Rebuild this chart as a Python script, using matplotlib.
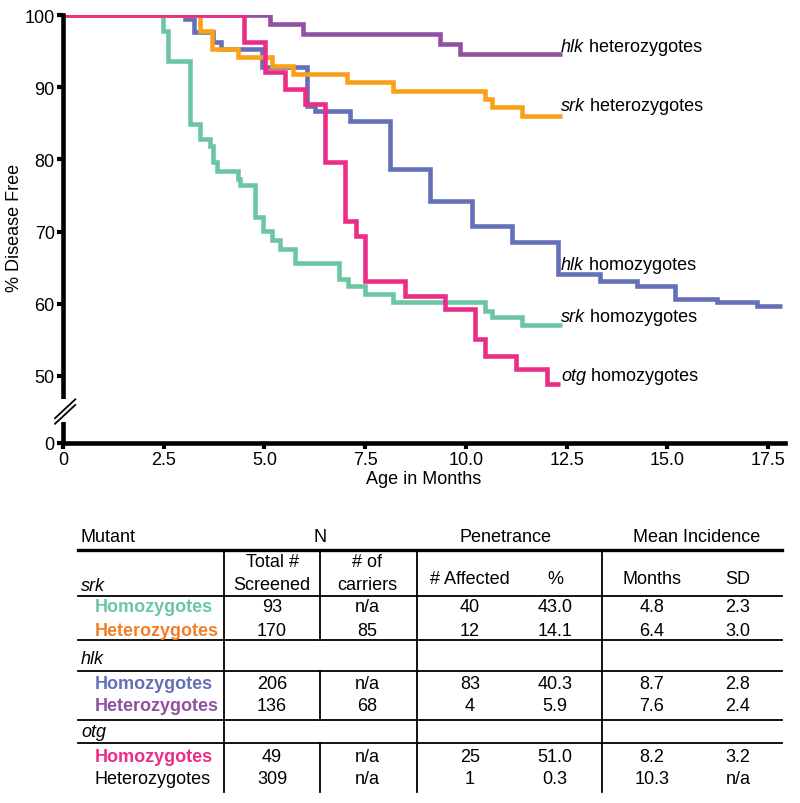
import matplotlib
matplotlib.use('Agg')
import matplotlib.pyplot as plt
from matplotlib.lines import Line2D
from matplotlib.patches import Rectangle

plt.rcParams['font.family'] = ['Liberation Sans', 'DejaVu Sans']

# ---------------- survival data (months, % disease free) ----------------
srk_hom_t = [0, 2.48, 2.61, 3.15, 3.40, 3.65, 3.72, 3.82, 4.34, 4.39, 4.76, 4.96,
             5.19, 5.38, 5.76, 6.85, 7.07, 7.49, 8.19, 10.47, 10.65, 11.39, 12.38]
srk_hom_s = [100, 97.8, 93.6, 84.9, 82.8, 81.9, 79.6, 78.4, 77.3, 76.4, 72.0, 70.1,
             68.9, 67.6, 65.6, 63.4, 62.4, 61.3, 60.2, 59.0, 58.2, 57.0, 57.0]

srk_het_t = [0, 3.40, 3.70, 4.34, 5.19, 5.71, 7.05, 8.19, 10.47, 10.65, 11.39, 12.38]
srk_het_s = [100, 97.8, 95.3, 94.2, 93.0, 91.8, 90.7, 89.5, 88.4, 87.2, 86.0, 86.0]

hlk_hom_t = [0, 3.03, 3.25, 3.72, 3.92, 4.94, 6.05, 6.25, 7.12, 8.11, 9.11, 10.15,
             11.14, 12.28, 13.33, 14.24, 15.19, 16.23, 17.22, 17.84]
hlk_hom_s = [100, 99.4, 97.6, 96.2, 95.3, 92.8, 87.4, 86.7, 85.3, 78.7, 74.2, 70.8,
             68.5, 64.1, 63.2, 62.5, 60.7, 60.2, 59.7, 59.7]

hlk_het_t = [0, 5.14, 5.96, 9.36, 9.85, 12.38]
hlk_het_s = [100, 98.8, 97.4, 96.0, 94.6, 94.6]

otg_hom_t = [0, 4.49, 5.01, 5.51, 6.00, 6.50, 7.00, 7.27, 7.49, 8.49, 9.48, 10.22,
             10.47, 11.24, 12.01, 12.33]
otg_hom_s = [100, 96.2, 92.1, 89.8, 87.7, 79.7, 71.4, 69.4, 63.2, 61.1, 59.3, 55.1,
             52.8, 51.0, 48.9, 48.9]

x_ticks = [0, 2.5, 5.0, 7.5, 10.0, 12.5, 15.0, 17.5]
x_ticklabels = ['0', '2.5', '5.0', '7.5', '10.0', '12.5', '15.0', '17.5']
y_ticks_upper = [50, 60, 70, 80, 90, 100]

# ---------------- table data ----------------
mutants = ['srk', 'hlk', 'otg']
genotypes = ['Homozygotes', 'Heterozygotes']
total_screened = [['93', '170'], ['206', '136'], ['49', '309']]
carriers = [['n/a', '85'], ['n/a', '68'], ['n/a', 'n/a']]
affected = [['40', '12'], ['83', '4'], ['25', '1']]
percent = [['43.0', '14.1'], ['40.3', '5.9'], ['51.0', '0.3']]
months = [['4.8', '6.4'], ['8.7', '7.6'], ['8.2', '10.3']]
sd = [['2.3', '3.0'], ['2.8', '2.4'], ['3.2', 'n/a']]

# ---------------- colours ----------------
C_TEAL = '#6CC6A2'
C_ORANGE = '#F9A11B'
C_ORANGE_TXT = '#F47E27'
C_BLUE = '#6470B7'
C_PURPLE = '#9150A1'
C_PINK = '#EC2D87'

W, H = 800, 804
fig = plt.figure(figsize=(W / 100, H / 100), dpi=100)


def fx(x):
    return x / W


def fy(y):
    return 1 - y / H


ax = fig.add_axes([fx(63), fy(444), (785 - 63) / W, (444 - 16) / H])

# broken axis: value shown at the bottom of the axis is 0
Y_BOTTOM = 50 - (444 - 377) / 7.22
ax.set_xlim(0, 17.92)
ax.set_ylim(Y_BOTTOM, 100)

series = [
    (srk_hom_t, srk_hom_s, C_TEAL, 2),
    (hlk_het_t, hlk_het_s, C_PURPLE, 3),
    (hlk_hom_t, hlk_hom_s, C_BLUE, 4),
    (srk_het_t, srk_het_s, C_ORANGE, 5),
    (otg_hom_t, otg_hom_s, C_PINK, 6),
]
for t, s, c, z in series:
    ax.step(t, s, where='post', color=c, lw=3.3, zorder=z,
            solid_joinstyle='miter', solid_capstyle='butt')

for side in ['top', 'right']:
    ax.spines[side].set_visible(False)
for side in ['left', 'bottom']:
    ax.spines[side].set_linewidth(3.3)
    ax.spines[side].set_zorder(8)

ax.set_xticks(x_ticks)
ax.set_xticklabels(x_ticklabels)
ax.set_yticks([Y_BOTTOM] + y_ticks_upper)
ax.set_yticklabels(['0'] + [str(v) for v in y_ticks_upper])
ax.tick_params(axis='both', direction='out', length=4, width=3.0,
               labelsize=13, pad=2)

ax.set_xlabel('Age in Months', fontsize=13)
ax.xaxis.set_label_coords(0.5, -0.064)
ax.set_ylabel('% Disease Free', fontsize=13)
ax.yaxis.set_label_coords(-0.055, 0.505)

# axis break marks
ax.add_patch(Rectangle((-0.02, 0.049), 0.04, 0.054, transform=ax.transAxes,
                       facecolor='white', edgecolor='none', clip_on=False, zorder=9))
for dy in (0.0, 0.013):
    ax.add_line(Line2D([-0.011, 0.017], [0.058 - dy, 0.102 - dy], transform=ax.transAxes,
                       color='black', lw=1.3, clip_on=False, zorder=10))


def rich(x, y, parts, transform, fontsize=13, va='center'):
    prev = None
    for txt, style, weight, color in parts:
        if prev is None:
            prev = fig.text(x, y, txt, transform=transform, fontsize=fontsize,
                            style=style, weight=weight, color=color, ha='left', va=va)
        else:
            prev = fig.add_artist(matplotlib.text.Annotation(
                txt, xy=(1, 0), xycoords=prev, fontsize=fontsize, style=style,
                weight=weight, color=color, ha='left', va='bottom'))
    return prev


# curve labels
curve_labels = [
    ('hlk', ' heterozygotes', 95.7),
    ('srk', ' heterozygotes', 87.4),
    ('hlk', ' homozygotes', 65.5),
    ('srk', ' homozygotes', 58.3),
    ('otg', ' homozygotes', 50.1),
]
for gene, rest, yv in curve_labels:
    rich(12.36, yv, [(gene, 'italic', 'normal', 'black'),
                     (rest, 'normal', 'normal', 'black')], ax.transData)

# ---------------- table ----------------
FS = 13
TL, TR = 78, 782


def hline(y, lw=1.3):
    fig.add_artist(Line2D([fx(TL), fx(TR)], [fy(y), fy(y)], color='black', lw=lw))


def vline(x, y0, y1, lw=1.3):
    fig.add_artist(Line2D([fx(x), fx(x)], [fy(y0), fy(y1)], color='black', lw=lw))


def ctext(x, y, s, **kw):
    fig.text(fx(x), fy(y), s, ha='center', va='center', fontsize=FS, **kw)


fig.text(fx(81), fy(538), 'Mutant', ha='left', va='center', fontsize=FS)
ctext(320, 538, 'N')
ctext(506, 538, 'Penetrance')
ctext(697, 538, 'Mean Incidence')
hline(551, lw=2.4)

ctext(272, 563, 'Total #')
ctext(272, 585, 'Screened')
ctext(367, 563, '# of')
ctext(367, 585, 'carriers')
ctext(470, 580, '# Affected')
ctext(555, 580, '%')
ctext(652, 580, 'Months')
ctext(738, 580, 'SD')

name_y = [587, 660, 733]
row_y = [[608, 632], [685, 707], [758, 780]]
label_colors = [[C_TEAL, C_ORANGE_TXT], [C_BLUE, C_PURPLE], [C_PINK, 'black']]
label_weights = [['bold', 'bold'], ['bold', 'bold'], ['bold', 'normal']]
col_x = [272, 367, 470, 555, 652, 738]
cols = [total_screened, carriers, affected, percent, months, sd]

for g in range(3):
    fig.text(fx(81), fy(name_y[g]), mutants[g], style='italic', ha='left',
             va='center', fontsize=FS)
    for r in range(2):
        fig.text(fx(95), fy(row_y[g][r]), genotypes[r], color=label_colors[g][r],
                 weight=label_weights[g][r], ha='left', va='center', fontsize=FS)
        for cx, col in zip(col_x, cols):
            ctext(cx, row_y[g][r], col[g][r])

for y in [597, 641, 672, 721, 744]:
    hline(y)

for x in [224, 417, 602]:
    vline(x, 552, 793)
for y0, y1 in [(552, 641), (672, 721), (744, 793)]:
    vline(320, y0, y1)

fig.savefig('out.png', dpi=100)
